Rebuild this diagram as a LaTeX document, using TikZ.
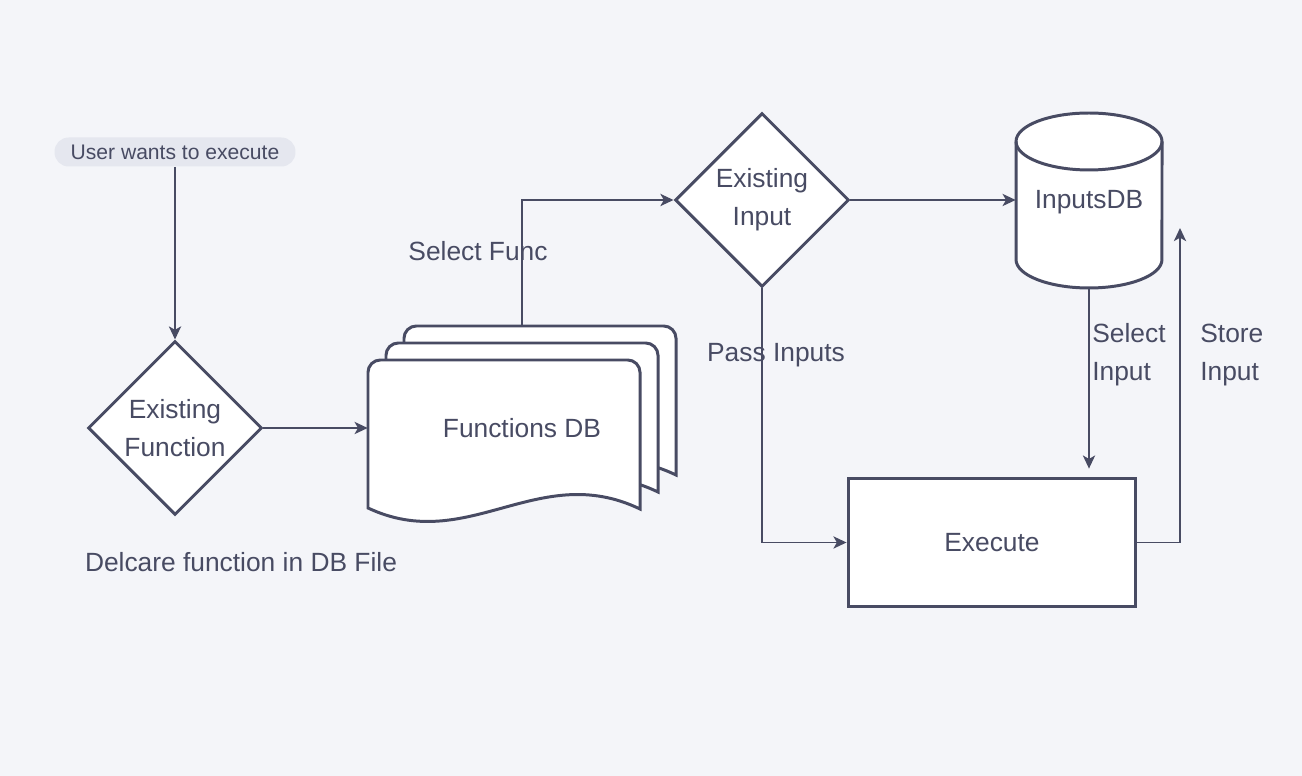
\documentclass[tikz,border=0pt]{standalone}
\usepackage{fontspec}
\setmainfont{Liberation Sans}
\usetikzlibrary{shapes.geometric,arrows.meta}
\definecolor{ink}{HTML}{484B63}
\definecolor{paper}{HTML}{F4F5F9}
\definecolor{pillgray}{HTML}{E5E7EF}
\begin{document}
\begin{tikzpicture}[x=0.02cm,y=-0.02cm,font=\fontsize{15}{21.5}\selectfont,text=ink,
  decision/.style={diamond,draw=ink,line width=1.7pt,fill=white,minimum width=3.48cm,minimum height=3.48cm,inner sep=0pt,align=center},
  flow/.style={draw=ink,line width=0.85pt,-{Stealth[length=7.5pt,width=7pt,inset=2pt]}},
  page/.style={draw=ink,line width=1.7pt,fill=white},
  tag/.style={align=left,inner sep=0pt}]
\fill[paper] (0,0) rectangle (1302,776);
\useasboundingbox (0,0) rectangle (1302,776);
% start
\node (start) at (175,152) [fill=pillgray,rounded corners=8pt,minimum width=4.82cm,minimum height=0.58cm,inner sep=0pt,font=\fontsize{12}{14}\selectfont] {User wants to execute};
\node (exfunc) at (175,428) [decision] {Existing\\Function};
\node (declare) at (241,562) {Delcare function in DB File};
% stacked pages
\foreach \dx/\dy in {36/-34,18/-17,0/0}
  \draw[page,shift={({368+\dx},{360+\dy})}] (0,60) [rounded corners=7pt] -- (0,0) -- (272,0) -- (272,60) [sharp corners] -- (272,149) .. controls (170,100) and (100,195) .. (0,148) -- cycle;
\node (fdb) at (504,428) [minimum width=5.44cm,minimum height=2.96cm,inner sep=0pt] {};
\node (fdbname) at (522,428) {Functions DB};
\coordinate (fdbtop) at (522,327);
\node (selfunc) at (478,251) {Select Func};
\node (exinput) at (762,200) [decision] {Existing\\Input};
\node (passin) at (776,355) {Pass Inputs};
% cylinder
\draw[page] (1016,141.5) -- (1016,259.5) arc[start angle=180,end angle=360,x radius=1.46cm,y radius=0.57cm] -- (1162,141.5) arc[start angle=0,end angle=180,x radius=1.46cm,y radius=0.57cm] -- cycle;
\draw[ink,line width=1.7pt] (1016,141.5) arc[start angle=180,end angle=360,x radius=1.46cm,y radius=0.57cm];
\node (inputs) at (1089,200) [minimum width=2.92cm,minimum height=3.5cm,inner sep=0pt] {};
\node (inputsname) at (1089,202) {InputsDB};
\node (selin) at (1092,355) [tag,anchor=west] {Select\\Input};
\node (storein) at (1200,355) [tag,anchor=west] {Store\\Input};
\node (exec) at (992,542.5) [draw=ink,line width=1.7pt,fill=white,minimum width=5.76cm,minimum height=2.58cm] {Execute};
\coordinate (storetip) at (1180,228);
% connectors
\draw[flow] (start) -- (exfunc);
\draw[flow] (exfunc) -- (fdb);
\draw[flow] (fdbtop) |- (exinput);
\draw[flow] (exinput) -- (inputs);
\draw[flow,shorten >=4.5pt] (inputs.south) -- (inputs.south |- exec.north);
\draw[flow] (exec) -| (storetip);
\draw[flow] (exinput) |- (exec);
\end{tikzpicture}
\end{document}
